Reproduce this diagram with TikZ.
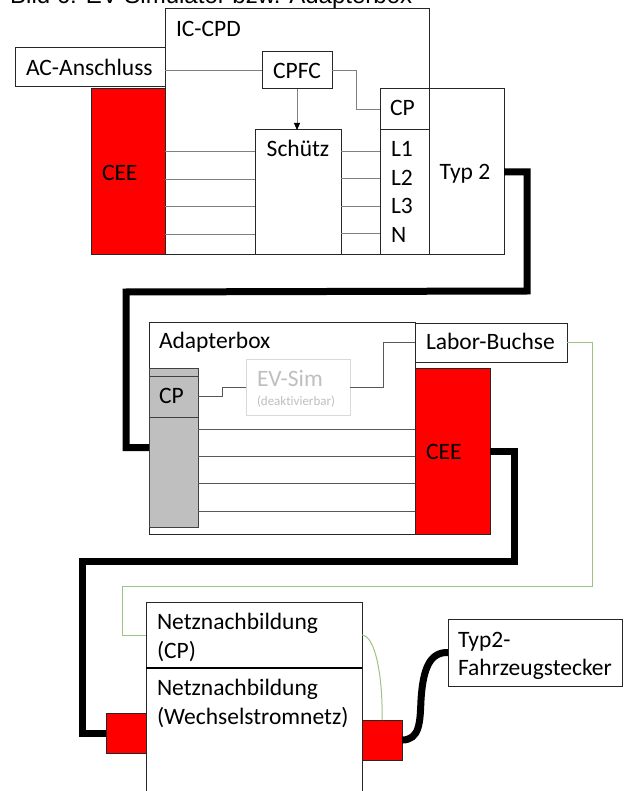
\documentclass[tikz,border=0pt]{standalone}
\usepackage{fontspec}
\setmainfont[Ligatures=NoCommon]{Carlito}
\newfontfamily\titlefont{Liberation Sans}
\usetikzlibrary{fit,arrows.meta,calc}
\definecolor{plugred}{HTML}{FF0000}
\definecolor{sigreen}{HTML}{9DC384}
\definecolor{colgray}{HTML}{BFBFBF}
\definecolor{offgray}{HTML}{D9D9D9}
\definecolor{offtext}{HTML}{BFBFBF}
\begin{document}
\begin{tikzpicture}[x=1pt,y=-1pt,
  box/.style={draw=black!85, line width=1pt, fill=white, inner sep=0pt, outer sep=0pt},
  redbox/.style={box, fill=plugred},
  graybox/.style={box, fill=colgray, draw=black!75},
  offbox/.style={box, draw=offgray},
  wire/.style={draw=black!50, line width=0.9pt},
  dwire/.style={draw=black!65, line width=1pt},
  cable/.style={draw=black, line width=7pt, line join=miter},
  sigline/.style={draw=sigreen, line width=1pt},
  lbl/.style={inner sep=0pt, outer sep=0pt, anchor=base west,
    font=\fontsize{23.5}{29}\selectfont},
  clbl/.style={lbl, anchor=base}]
\useasboundingbox (0,0) rectangle (624,791);
\clip (0,0) rectangle (624,791);

% caption line at the top edge
\node[inner sep=0pt, anchor=base west, font=\titlefont\fontsize{24}{28}\selectfont]
  (title) at (10,4) {Bild 6: EV-Simulator bzw. Adapterbox};

% ---------- IC-CPD ----------
\node[box, fit={(165,9) (429,255)}] (iccpd) {};
\node[box, fit={(15,48) (165,87)}] (ac) {};
\node[redbox, fit={(91,89) (165,255)}] (cee1) {};
\node[box, fit={(262,52) (332,89)}] (cpfc) {};
\node[box, fit={(255,130) (341,255)}] (schuetz) {};
\node[box, fit={(380,89) (429,130)}] (cp1) {};
\node[box, fit={(380,130) (429,255)}] (lbox) {};
\node[box, fit={(429,89) (504,255)}] (typ2) {};

\draw[wire] (ac.east |- cpfc.west) -- (cpfc.west);
\draw[wire] (cpfc.east) -- ++(24,0) |- (cp1.west);
\draw[wire, -{Triangle[length=7pt,width=6pt,color=black]}] (cpfc.south) -- (cpfc.south |- schuetz.north);
\foreach \y in {151,179,206,234}
  \draw[wire] (cee1.east |- 0,\y) -- (schuetz.west |- 0,\y);
\foreach \y in {151,178,206,233}
  \draw[wire] (schuetz.east |- 0,\y) -- (lbox.west |- 0,\y);

\node[lbl] (t-iccpd) at (176,37) {IC-CPD};
\node[lbl] (t-ac) at (26,76) {AC-Anschluss};
\node[clbl] (t-cpfc) at (297,79) {CPFC};
\node[lbl] (t-cee1) at (102,181) {CEE};
\node[clbl] (t-schuetz) at (298,157) {Schütz};
\node[lbl] (t-cp1) at (390,116) {CP};
\node[lbl] (t-l1) at (391,157) {L1};
\node[lbl] (t-l2) at (391,185.5) {L2};
\node[lbl] (t-l3) at (391,214) {L3};
\node[lbl] (t-n) at (391,242.5) {N};
\node[clbl] (t-typ2) at (465,180) {Typ 2};

% ---------- Adapterbox ----------
\node[box, fit={(149,322) (415,534)}] (adapter) {};
\node[graybox, fit={(149,368) (198,527)}] (gray) {};
\node[graybox, fit={(149,376) (198,417)}] (cp2) {};
\node[offbox, fit={(246,359) (350,415)}] (evsim) {};
\node[box, fit={(415,323) (567,362)}] (labor) {};
\node[redbox, fit={(415,368) (490,534)}] (cee2) {};

\draw[dwire] (cp2.east) -- ++(24,0) |- (evsim.west);
\draw[dwire] (evsim.east) -- ++(33,0) |- (labor.west);
\foreach \y in {429,456,483,511}
  \draw[dwire] (gray.east |- 0,\y) -- (cee2.west |- 0,\y);

\node[lbl] (t-adapter) at (159,348) {Adapterbox};
\node[lbl] (t-cp2) at (159,403) {CP};
\node[lbl, text=offtext] (t-evsim) at (257,386) {EV-Sim};
\node[lbl, text=offtext, font=\fontsize{13}{15}\selectfont] (t-deakt) at (257,405) {(deaktivierbar)};
\node[lbl] (t-labor) at (426,349) {Labor-Buchse};
\node[lbl] (t-cee2) at (426,459) {CEE};

% ---------- Netznachbildung ----------
\node[box, fit={(146,668) (362,830)}] (netzac) {};
\node[box, fit={(146,602) (362,668)}] (netzcp) {};
\draw[black, line width=2pt] (netzcp.south west) -- (netzcp.south east);
\node[redbox, fit={(106,713) (146,753)}] (sqL) {};
\node[redbox, fit={(362,720) (402,760)}] (sqR) {};
\node[box, fit={(448,619) (622,686)}] (fz) {};

% multi-line labels: the base anchor sits on the last line
\node[lbl, align=left] (t-netzcp) at (157,658) {Netznachbildung\\(CP)};
\node[lbl, align=left] (t-netzac) at (157,724) {Netznachbildung\\(Wechselstromnetz)};
\node[lbl, align=left, font=\fontsize{23.5}{28}\selectfont] (t-fz) at (458,675) {Typ2-\\Fahrzeugstecker};

% ---------- cables and signal lines ----------
\draw[cable] (typ2.east) -- ++(23,0) -- ++(0,119) -- (126,292) |- (gray.west);
\draw[cable] (cee2.east) -- ++(24,0) -- (514,561) -- (82,561) |- (sqL.west);
\draw[cable] (sqR.east) .. controls (420,740) and (420,722) .. (421,700)
  .. controls (423,668) and (430,652) .. (fz.west);
\draw[sigline] (labor.east) -- ++(25,0) -- (592,586) -- (122,586) |- (netzcp.west);
\draw[sigline] (netzcp.east) .. controls (376,636) and (383,680) .. (sqR.north);
\end{tikzpicture}
\end{document}
